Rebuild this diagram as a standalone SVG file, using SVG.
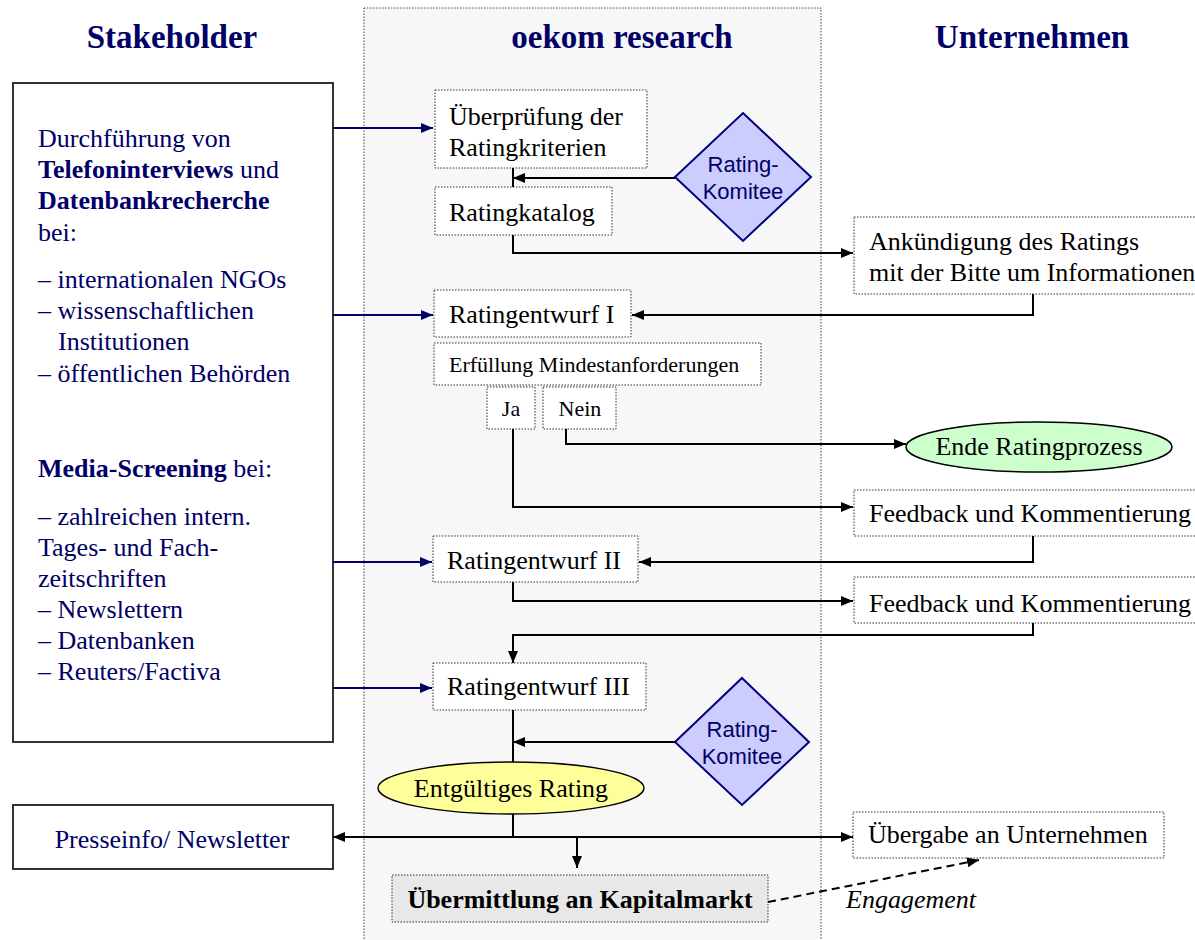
<svg xmlns="http://www.w3.org/2000/svg" width="1195" height="940" viewBox="0 0 1195 940">
<defs>
<marker id="ab" markerUnits="userSpaceOnUse" markerWidth="12" markerHeight="10" refX="12" refY="5" orient="auto-start-reverse"><path d="M0,0 L12,5 L0,10 z" fill="#000"/></marker>
<marker id="an" markerUnits="userSpaceOnUse" markerWidth="12" markerHeight="10" refX="12" refY="5" orient="auto"><path d="M0,0 L12,5 L0,10 z" fill="#000066"/></marker>
</defs>
<style>
.hdr{font-family:'Liberation Serif','Times New Roman',serif;font-weight:bold;font-size:33px;fill:#000066;text-anchor:middle}
.t{font-family:'Liberation Serif','Times New Roman',serif;font-size:26px;fill:#000}
.s{font-family:'Liberation Serif','Times New Roman',serif;font-size:22px;fill:#000}
.nv{font-family:'Liberation Serif','Times New Roman',serif;font-size:26px;fill:#000066}
.sans{font-family:'Liberation Sans',Arial,sans-serif;font-size:22px;fill:#000066;text-anchor:middle}
.box{fill:#fff;stroke:#333;stroke-width:1;stroke-dasharray:1.5,1.5}
.solid{fill:#fff;stroke:#333;stroke-width:2}
.dia{fill:#ccccff;stroke:#000080;stroke-width:2}
.c{fill:none;stroke:#000;stroke-width:2}
.cn{fill:none;stroke:#000066;stroke-width:2}
</style>
<rect width="1195" height="940" fill="#fff"/>
<rect id="column" x="364" y="8" width="457" height="940" fill="#f7f7f7" stroke="#444" stroke-width="1" stroke-dasharray="1.5,1.5"/>
<g id="headers">
<text class="hdr" x="172" y="48">Stakeholder</text>
<text class="hdr" x="622" y="48">oekom research</text>
<text class="hdr" x="1032" y="48">Unternehmen</text>
</g>
<g id="stakeholder-box">
<rect class="solid" x="13" y="83" width="320" height="659"/>
<text class="nv" x="38" y="147">Durchführung von</text>
<text class="nv" x="38" y="178"><tspan font-weight="bold">Telefoninterviews</tspan> und</text>
<text class="nv" x="38" y="209" font-weight="bold">Datenbankrecherche</text>
<text class="nv" x="38" y="241">bei:</text>
<text class="nv" x="38" y="288">– internationalen NGOs</text>
<text class="nv" x="38" y="319">– wissenschaftlichen</text>
<text class="nv" x="58" y="350">Institutionen</text>
<text class="nv" x="38" y="382">– öffentlichen Behörden</text>
<text class="nv" x="38" y="477"><tspan font-weight="bold">Media-Screening</tspan> bei:</text>
<text class="nv" x="38" y="525">– zahlreichen intern.</text>
<text class="nv" x="38" y="556">Tages- und Fach-</text>
<text class="nv" x="38" y="587">zeitschriften</text>
<text class="nv" x="38" y="618">– Newslettern</text>
<text class="nv" x="38" y="649">– Datenbanken</text>
<text class="nv" x="38" y="680">– Reuters/Factiva</text>
</g>
<g id="presseinfo">
<rect class="solid" x="13" y="805" width="320" height="64"/>
<text class="nv" x="172" y="848" text-anchor="middle">Presseinfo/ Newsletter</text>
</g>
<g id="ueberpruefung">
<rect class="box" x="435" y="90" width="212" height="78"/>
<text class="t" x="449" y="125">Überprüfung der</text>
<text class="t" x="449" y="156">Ratingkriterien</text>
</g>
<g id="ratingkatalog">
<rect class="box" x="435" y="187" width="177" height="48"/>
<text class="t" x="449" y="221">Ratingkatalog</text>
</g>
<g id="komitee1">
<polygon class="dia" points="743,113 811,177 743,241 675,177"/>
<text class="sans" x="743" y="172">Rating-</text>
<text class="sans" x="743" y="199">Komitee</text>
</g>
<g id="ankuendigung">
<rect class="box" x="854" y="217" width="350" height="77"/>
<text class="t" x="869" y="250">Ankündigung des Ratings</text>
<text class="t" x="869" y="281">mit der Bitte um Informationen</text>
</g>
<g id="ratingentwurf1">
<rect class="box" x="434" y="290" width="197" height="47"/>
<text class="t" x="449" y="323">Ratingentwurf I</text>
</g>
<g id="erfuellung">
<rect class="box" x="434" y="343" width="327" height="42"/>
<text class="s" x="449" y="372">Erfüllung Mindestanforderungen</text>
</g>
<g id="ja">
<rect class="box" x="487" y="387" width="48" height="42"/>
<text class="s" x="511" y="416" text-anchor="middle">Ja</text>
</g>
<g id="nein">
<rect class="box" x="543" y="387" width="73" height="42"/>
<text class="s" x="580" y="416" text-anchor="middle">Nein</text>
</g>
<g id="ende">
<ellipse cx="1039" cy="447" rx="133" ry="25" fill="#ccffcc" stroke="#000" stroke-width="1.5"/>
<text class="t" x="1039" y="455" text-anchor="middle">Ende Ratingprozess</text>
</g>
<g id="feedback1">
<rect class="box" x="854" y="490" width="350" height="46"/>
<text class="t" x="869" y="522">Feedback und Kommentierung</text>
</g>
<g id="ratingentwurf2">
<rect class="box" x="433" y="536" width="205" height="46"/>
<text class="t" x="447" y="569">Ratingentwurf II</text>
</g>
<g id="feedback2">
<rect class="box" x="854" y="577" width="350" height="46"/>
<text class="t" x="869" y="612">Feedback und Kommentierung</text>
</g>
<g id="ratingentwurf3">
<rect class="box" x="433" y="663" width="213" height="47"/>
<text class="t" x="447" y="695">Ratingentwurf III</text>
</g>
<g id="komitee2">
<polygon class="dia" points="742,678 809,742 742,805 675,742"/>
<text class="sans" x="742" y="737">Rating-</text>
<text class="sans" x="742" y="764">Komitee</text>
</g>
<g id="entgueltig">
<ellipse cx="511" cy="788" rx="133" ry="26" fill="#ffff99" stroke="#000" stroke-width="1.5"/>
<text class="t" x="511" y="797" text-anchor="middle">Entgültiges Rating</text>
</g>
<g id="uebergabe">
<rect class="box" x="853" y="812" width="311" height="46"/>
<text class="t" x="868" y="843">Übergabe an Unternehmen</text>
</g>
<g id="kapitalmarkt">
<rect x="392" y="875" width="376" height="47" fill="#e8e8e8" stroke="#333" stroke-width="1" stroke-dasharray="1.5,1.5"/>
<text class="t" x="580" y="908" text-anchor="middle" font-weight="bold" font-size="25">Übermittlung an Kapitalmarkt</text>
</g>
<g id="engagement-label">
<text class="t" x="846" y="908" font-style="italic" font-size="25">Engagement</text>
</g>
<g id="connectors">
<path class="cn" d="M333,128 H433" marker-end="url(#an)"/>
<path class="cn" d="M333,315 H433" marker-end="url(#an)"/>
<path class="cn" d="M333,562 H432" marker-end="url(#an)"/>
<path class="cn" d="M333,688 H432" marker-end="url(#an)"/>
<path class="c" d="M513,168 V187"/>
<path class="c" d="M675,178 H513" marker-end="url(#ab)"/>
<path class="c" d="M513,235 V253 H853" marker-end="url(#ab)"/>
<path class="c" d="M1033,294 V315 H632" marker-end="url(#ab)"/>
<path class="c" d="M566,429 V444 H906" marker-end="url(#ab)"/>
<path class="c" d="M513,429 V507 H853" marker-end="url(#ab)"/>
<path class="c" d="M1033,536 V562 H639" marker-end="url(#ab)"/>
<path class="c" d="M513,582 V601 H853" marker-end="url(#ab)"/>
<path class="c" d="M1033,623 V635 H513 V663" marker-end="url(#ab)"/>
<path class="c" d="M513,710 V762"/>
<path class="c" d="M675,742 H513" marker-end="url(#ab)"/>
<path class="c" d="M513,814 V837"/>
<path class="c" d="M333,837 H853" marker-start="url(#ab)" marker-end="url(#ab)"/>
<path class="c" d="M577,837 V868" marker-end="url(#ab)"/>
<path class="c" d="M768,902 L979,860" stroke-dasharray="8,5" marker-end="url(#ab)"/>
</g>
</svg>
